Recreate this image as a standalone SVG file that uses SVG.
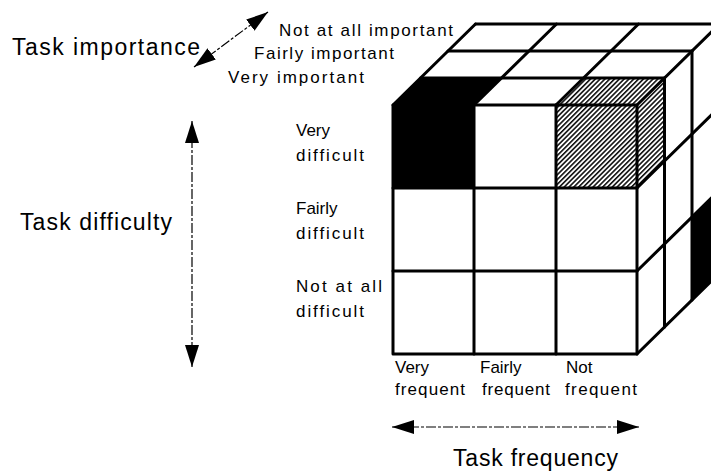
<svg xmlns="http://www.w3.org/2000/svg" width="711" height="475" viewBox="0 0 711 475">
  <style>
    .grid { fill: none; stroke: #000; stroke-width: 3; stroke-linecap: round; stroke-linejoin: round; }
    .face { fill: #fff; }
    .solid { fill: #000; }
    .hatched { fill: url(#hatch); }
    .axis { fill: none; stroke: #000; stroke-width: 1.2; stroke-dasharray: 10 2 3 2; }
    .title { font-family: "Liberation Sans", Arial, sans-serif; font-size: 23px; fill: #000; }
    .lbl { font-family: "Liberation Sans", Arial, sans-serif; font-size: 17px; fill: #000; }
  </style>
  <defs>
    <pattern id="hatch" width="3.4" height="3.4" patternUnits="userSpaceOnUse" patternTransform="rotate(45)">
      <rect width="3.4" height="3.4" fill="#fff"/>
      <line x1="0.8" y1="0" x2="0.8" y2="3.4" stroke="#000" stroke-width="1.5"/>
    </pattern>
    <marker id="head" viewBox="0 0 22 14" markerWidth="22" markerHeight="14" refX="22" refY="7" markerUnits="userSpaceOnUse" orient="auto-start-reverse">
      <path d="M0,0 L22,7 L0,14 z" fill="#000"/>
    </marker>
  </defs>

  <rect width="711" height="475" fill="#fff"/>

  <!-- 3 x 3 x 3 cube: front face, top face and right face -->
  <g id="cube">
    <rect class="face" x="393" y="105" width="244" height="249"/>
    <polygon class="face" points="393,105 637,105 719.5,24 475.5,24"/>
    <polygon class="face" points="637,105 719.5,24 719.5,273 637,354"/>

    <!-- very important / very difficult / very frequent cell -->
    <g id="cell-black">
      <rect class="solid" x="393" y="105" width="81" height="83"/>
      <polygon class="solid" points="393,105 474,105 501.5,78 420.5,78"/>
    </g>
    <!-- very important / very difficult / not frequent cell -->
    <g id="cell-hatched">
      <rect class="hatched" x="556" y="105" width="81" height="83"/>
      <polygon class="hatched" points="556,105 637,105 664.5,78 583.5,78"/>
      <polygon class="hatched" points="637,105 664.5,78 664.5,161 637,188"/>
    </g>
    <!-- rear cell on the right face -->
    <polygon id="cell-rear" class="solid" points="692,217 719.5,190 719.5,273 692,300"/>

    <g class="grid">
      <!-- front face -->
      <rect x="393" y="105" width="244" height="249"/>
      <line x1="474" y1="105" x2="474" y2="354"/>
      <line x1="556" y1="105" x2="556" y2="354"/>
      <line x1="393" y1="188" x2="637" y2="188"/>
      <line x1="393" y1="271" x2="637" y2="271"/>
      <!-- top face -->
      <line x1="420.5" y1="78" x2="664.5" y2="78"/>
      <line x1="448" y1="51" x2="692" y2="51"/>
      <line x1="475.5" y1="24" x2="719.5" y2="24"/>
      <line x1="393" y1="105" x2="475.5" y2="24"/>
      <line x1="474" y1="105" x2="556.5" y2="24"/>
      <line x1="556" y1="105" x2="638.5" y2="24"/>
      <line x1="637" y1="105" x2="719.5" y2="24"/>
      <!-- right face -->
      <line x1="664.5" y1="78" x2="664.5" y2="327"/>
      <line x1="692" y1="51" x2="692" y2="300"/>
      <line x1="637" y1="188" x2="719.5" y2="107"/>
      <line x1="637" y1="271" x2="719.5" y2="190"/>
      <line x1="637" y1="354" x2="719.5" y2="273"/>
    </g>
  </g>

  <!-- axis arrows -->
  <g id="connectors">
    <line id="axis-importance" class="axis" x1="194" y1="67" x2="268" y2="12" marker-start="url(#head)" marker-end="url(#head)"/>
    <line id="axis-difficulty" class="axis" x1="192" y1="121" x2="192" y2="367" marker-start="url(#head)" marker-end="url(#head)"/>
    <line id="axis-frequency" class="axis" x1="392" y1="427" x2="639" y2="427" marker-start="url(#head)" marker-end="url(#head)"/>
  </g>

  <!-- axis titles -->
  <g id="titles">
    <text class="title" x="12" y="55" textLength="188" lengthAdjust="spacing">Task importance</text>
    <text class="title" x="20" y="230" textLength="152" lengthAdjust="spacing">Task difficulty</text>
    <text class="title" x="453" y="466" textLength="165" lengthAdjust="spacing">Task frequency</text>
  </g>

  <!-- importance levels -->
  <g id="importance-levels">
    <text class="lbl" x="279" y="36" textLength="174" lengthAdjust="spacing">Not at all important</text>
    <text class="lbl" x="254" y="59" textLength="140" lengthAdjust="spacing">Fairly important</text>
    <text class="lbl" x="228" y="83" textLength="136" lengthAdjust="spacing">Very important</text>
  </g>

  <!-- difficulty levels -->
  <g id="difficulty-levels">
    <text class="lbl" x="296" y="136">Very</text>
    <text class="lbl" x="296" y="161" textLength="68" lengthAdjust="spacing">difficult</text>
    <text class="lbl" x="296" y="214">Fairly</text>
    <text class="lbl" x="296" y="239" textLength="68" lengthAdjust="spacing">difficult</text>
    <text class="lbl" x="296" y="292" textLength="86" lengthAdjust="spacing">Not at all</text>
    <text class="lbl" x="296" y="317" textLength="68" lengthAdjust="spacing">difficult</text>
  </g>

  <!-- frequency levels -->
  <g id="frequency-levels">
    <text class="lbl" x="395" y="373">Very</text>
    <text class="lbl" x="395" y="395" textLength="70" lengthAdjust="spacing">frequent</text>
    <text class="lbl" x="480" y="373">Fairly</text>
    <text class="lbl" x="482" y="395" textLength="68" lengthAdjust="spacing">frequent</text>
    <text class="lbl" x="566" y="373">Not</text>
    <text class="lbl" x="565" y="395" textLength="72" lengthAdjust="spacing">frequent</text>
  </g>
</svg>
